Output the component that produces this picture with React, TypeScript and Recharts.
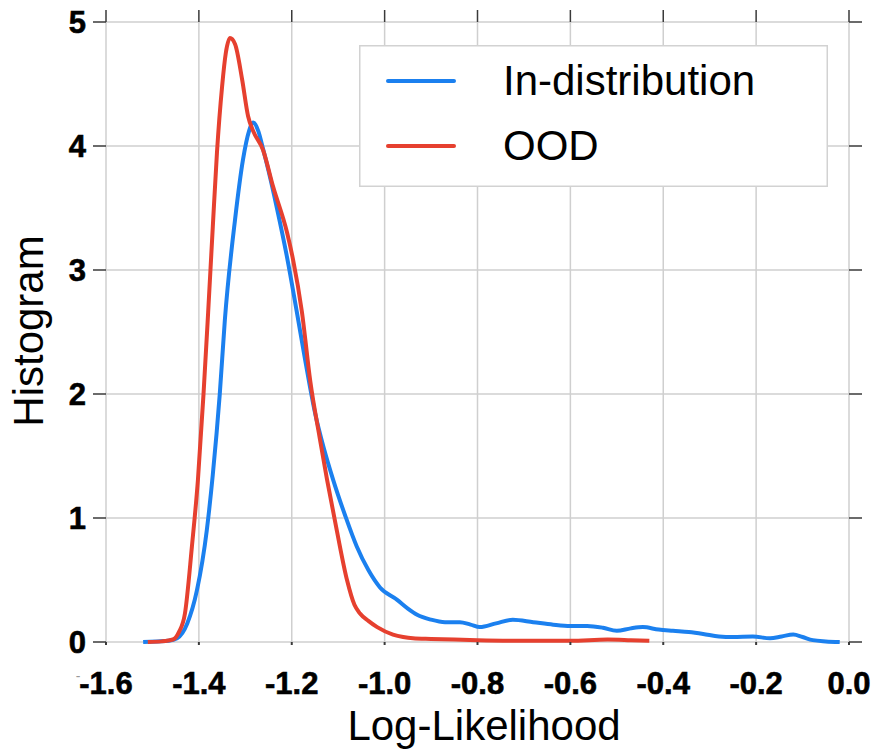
import React from "react";
import { LineChart, Line, XAxis, YAxis, CartesianGrid, Legend } from "recharts";

const xTicks = [-1.6, -1.4, -1.2, -1.0, -0.8, -0.6, -0.4, -0.2, 0.0];
const xTickLabels = ["-1.6", "-1.4", "-1.2", "-1.0", "-0.8", "-0.6", "-0.4", "-0.2", "0.0"];
const yTicks = [0, 1, 2, 3, 4, 5];

const inDistX = [-1.52, -1.49, -1.465, -1.447, -1.425, -1.404, -1.383, -1.37, -1.355, -1.344, -1.322, -1.305, -1.292, -1.283, -1.272, -1.262, -1.25, -1.232, -1.21, -1.189, -1.17, -1.15, -1.13, -1.111, -1.085, -1.06, -1.035, -1.01, -0.973, -0.95, -0.93, -0.9, -0.87, -0.838, -0.815, -0.795, -0.76, -0.724, -0.68, -0.637, -0.6, -0.564, -0.53, -0.5, -0.47, -0.444, -0.41, -0.379, -0.345, -0.314, -0.28, -0.25, -0.207, -0.17, -0.145, -0.12, -0.1, -0.078, -0.05, -0.02];
const inDistY = [0, 0.005, 0.01, 0.03, 0.15, 0.42, 0.9, 1.35, 2.0, 2.6, 3.41, 3.89, 4.12, 4.19, 4.12, 3.98, 3.8, 3.5, 3.1, 2.66, 2.25, 1.85, 1.55, 1.31, 1.02, 0.77, 0.58, 0.44, 0.34, 0.27, 0.22, 0.18, 0.16, 0.16, 0.14, 0.12, 0.15, 0.18, 0.16, 0.14, 0.13, 0.13, 0.115, 0.09, 0.11, 0.12, 0.1, 0.09, 0.08, 0.065, 0.045, 0.04, 0.045, 0.03, 0.045, 0.06, 0.04, 0.015, 0.005, 0];

const oodX = [-1.51, -1.48, -1.456, -1.443, -1.43, -1.415, -1.402, -1.39, -1.38, -1.37, -1.361, -1.35, -1.342, -1.333, -1.322, -1.307, -1.294, -1.283, -1.262, -1.24, -1.21, -1.197, -1.178, -1.16, -1.14, -1.124, -1.103, -1.081, -1.065, -1.053, -1.035, -1.016, -0.982, -0.96, -0.939, -0.9, -0.85, -0.8, -0.7, -0.6, -0.52, -0.47, -0.43];
const oodY = [0, 0.005, 0.02, 0.08, 0.23, 0.77, 1.31, 2.0, 2.66, 3.35, 3.95, 4.48, 4.75, 4.87, 4.82, 4.54, 4.24, 4.12, 3.97, 3.67, 3.3, 3.08, 2.66, 2.1, 1.65, 1.31, 0.9, 0.5, 0.3, 0.23, 0.17, 0.12, 0.06, 0.04, 0.03, 0.025, 0.02, 0.015, 0.01, 0.01, 0.02, 0.015, 0.01];

const inDistData = inDistX.map((x, i) => ({ x, y: inDistY[i] }));
const oodData = oodX.map((x, i) => ({ x, y: oodY[i] }));

const FONT = "'Liberation Sans', Arial, Helvetica, sans-serif";
const BLUE = "#1b80ef";
const RED = "#e6402f";
const GRID = "#cfcfcf";
const TICK = "#3a3a3a";
const PLOT_TOP = 22;
const PLOT_RIGHT = 849;

const XTick = (props: any) => {
  const { x, payload } = props;
  const idx = xTicks.indexOf(payload.value);
  const label = idx >= 0 ? xTickLabels[idx] : String(payload.value);
  return (
    <g>
      <line x1={x} x2={x} y1={PLOT_TOP} y2={PLOT_TOP - 12} stroke={TICK} strokeWidth={1.5} />
      <text x={x} y={694} textAnchor="middle" fontFamily={FONT} fontWeight="bold" fontSize={31} fill="#000" stroke="#000" strokeWidth={0.6}>
        {label}
      </text>
    </g>
  );
};

const YTick = (props: any) => {
  const { y, payload } = props;
  return (
    <g>
      <line x1={PLOT_RIGHT} x2={PLOT_RIGHT + 13} y1={y} y2={y} stroke={TICK} strokeWidth={1.5} />
      <text x={86} y={y + 11} textAnchor="end" fontFamily={FONT} fontWeight="bold" fontSize={31} fill="#000" stroke="#000" strokeWidth={0.6}>
        {String(payload.value)}
      </text>
    </g>
  );
};

const XLabel = () => (
  <g>
    <text x={78} y={681} textAnchor="middle" fontFamily={FONT} fontSize={14} fill="#999">-</text>
    <text x={484} y={740} textAnchor="middle" fontFamily={FONT} fontSize={42} fill="#000">
      Log-Likelihood
    </text>
  </g>
);

const YLabel = () => (
  <text
    x={0}
    y={0}
    transform="translate(43, 331) rotate(-90)"
    textAnchor="middle"
    fontFamily={FONT}
    fontSize={42}
    fill="#000"
  >
    Histogram
  </text>
);

const LegendBox = (props: any) => {
  const payload = props.payload || [];
  return (
    <svg width={469} height={142} style={{ display: "block" }}>
      <rect x={0.75} y={0.75} width={467.5} height={140.5} fill="#fff" stroke="#d2d2d2" strokeWidth={1.5} />
      {payload.map((p: any, i: number) => {
        const ly = 36 + i * 65;
        return (
          <g key={i}>
            <line x1={29} x2={95} y1={ly} y2={ly} stroke={p.color} strokeWidth={4} strokeLinecap="round" />
            <text x={144} y={ly + 14} fontFamily={FONT} fontSize={42} fill="#000">
              {p.value}
            </text>
          </g>
        );
      })}
    </svg>
  );
};

export default function App() {
  return (
    <div style={{ position: "absolute", left: 0, top: 0, width: 876, height: 749, background: "#fff" }}>
      <LineChart width={876} height={749} margin={{ top: 22, right: 27, bottom: 0, left: 0 }}>
        <CartesianGrid stroke={GRID} strokeWidth={1.5} />
        <XAxis
          type="number"
          dataKey="x"
          domain={[-1.6, 0]}
          ticks={xTicks}
          height={107}
          axisLine={false}
          tickLine={{ stroke: TICK, strokeWidth: 2 }}
          tickSize={3}
          tick={<XTick />}
          interval={0}
          label={<XLabel />}
        />
        <YAxis
          type="number"
          domain={[0, 5]}
          ticks={yTicks}
          width={106}
          axisLine={false}
          tickLine={{ stroke: TICK, strokeWidth: 1.5 }}
          tickSize={13}
          tick={<YTick />}
          interval={0}
          label={<YLabel />}
        />
        <Legend
          layout="vertical"
          align="center"
          verticalAlign="middle"
          content={<LegendBox />}
          wrapperStyle={{ position: "absolute", left: 359, top: 45, width: 469, height: 142 }}
        />
        <Line
          data={inDistData}
          dataKey="y"
          name="In-distribution"
          type="monotone"
          stroke={BLUE}
          strokeWidth={4}
          dot={false}
          isAnimationActive={false}
        />
        <Line
          data={oodData}
          dataKey="y"
          name="OOD"
          type="monotone"
          stroke={RED}
          strokeWidth={4}
          dot={false}
          isAnimationActive={false}
        />
      </LineChart>
    </div>
  );
}
